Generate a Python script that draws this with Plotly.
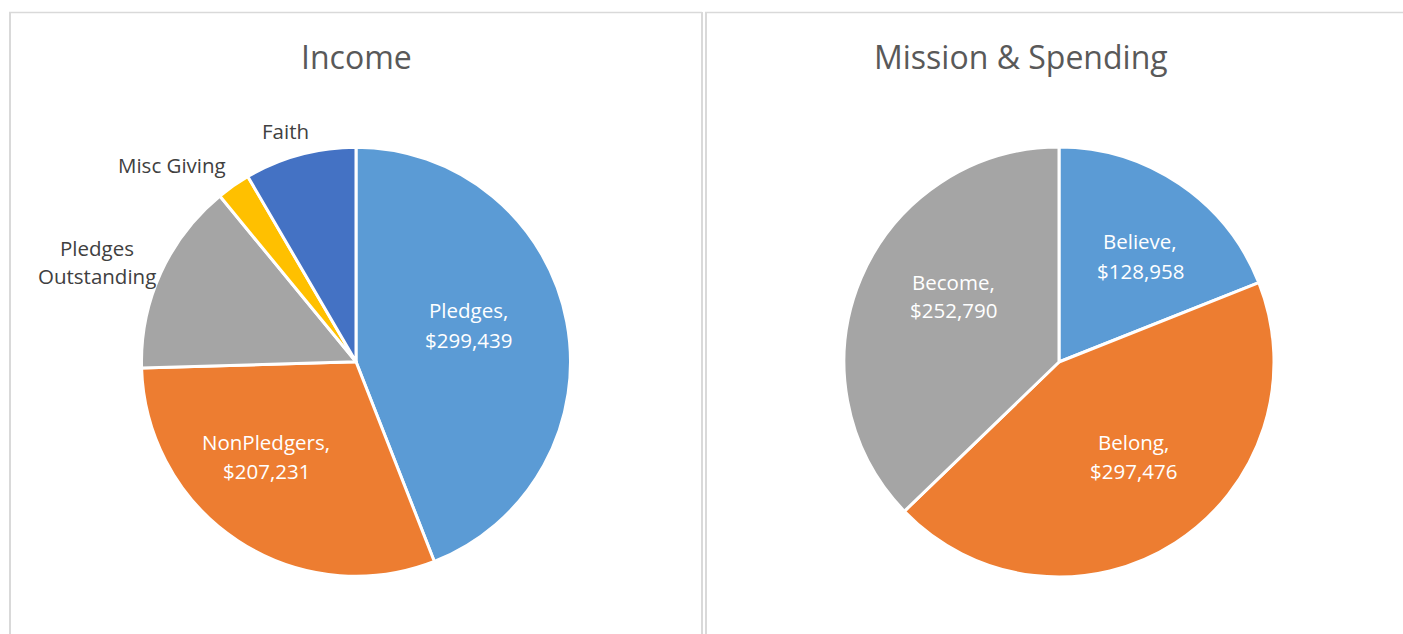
import plotly.graph_objects as go

W, H = 1403, 634

# ---- data ----
income_labels = ["Pledges", "NonPledgers", "Pledges Outstanding", "Misc Giving", "Faith"]
income_values = [299439, 207231, 98700, 17200, 57200]
income_colors = ["#5B9BD5", "#ED7D31", "#A5A5A5", "#FFC000", "#4472C4"]
income_show_value = [True, True, False, False, False]
income_display = ["Pledges", "NonPledgers", "Pledges<br>Outstanding", "Misc Giving", "Faith"]

spend_labels = ["Believe", "Belong", "Become"]
spend_values = [128958, 297476, 252790]
spend_colors = ["#5B9BD5", "#ED7D31", "#A5A5A5"]

titles = ["Income", "Mission & Spending"]

FONT = "Open Sans"


def px(x):
    return x / W


def py(y):
    return (H - y) / H


fig = go.Figure()

fig.add_trace(go.Pie(
    labels=income_labels, values=income_values, sort=False,
    direction="clockwise", rotation=0,
    marker=dict(colors=income_colors, line=dict(color="white", width=3)),
    textinfo="none", hoverinfo="label+value",
    domain=dict(x=[px(356 - 214.5), px(356 + 214.5)], y=[py(576.5), py(147)]),
    showlegend=False,
))
fig.add_trace(go.Pie(
    labels=spend_labels, values=spend_values, sort=False,
    direction="clockwise", rotation=0,
    marker=dict(colors=spend_colors, line=dict(color="white", width=3)),
    textinfo="none", hoverinfo="label+value",
    domain=dict(x=[px(1059 - 215), px(1059 + 215)], y=[py(577), py(147)]),
    showlegend=False,
))

annotations = []


def add_label(lines, cx, cy, color, size=20.5, spacing=29):
    n = len(lines)
    for i, t in enumerate(lines):
        y = cy + (i - (n - 1) / 2) * spacing
        annotations.append(dict(
            x=px(cx), y=py(y), xref="paper", yref="paper", text=t,
            showarrow=False, xanchor="center", yanchor="middle",
            font=dict(family=FONT, size=size, color=color),
        ))


# titles
add_label([titles[0]], 356, 56, "#595959", size=32)
add_label([titles[1]], 1021, 56, "#595959", size=32)

# income labels
inc_pos = [(468, 325), (266, 456), (97, 262), (172, 165), (285, 131)]
for lab, val, show, disp, (cx, cy) in zip(income_labels, income_values, income_show_value, income_display, inc_pos):
    if show:
        add_label([f"{disp},", f"${val:,}"], cx, cy, "white")
    else:
        add_label(disp.split("<br>"), cx, cy, "#404040")

# spending labels
sp_pos = [(1140, 256), (1133, 456), (953, 296)]
for lab, val, (cx, cy) in zip(spend_labels, spend_values, sp_pos):
    add_label([f"{lab},", f"${val:,}"], cx, cy, "white")

# panel borders
bc = "#D9D9D9"
shapes = [
    dict(type="line", xref="paper", yref="paper", x0=px(9), x1=px(702), y0=py(12.5), y1=py(12.5), line=dict(color=bc, width=1.5)),
    dict(type="line", xref="paper", yref="paper", x0=px(10), x1=px(10), y0=py(12), y1=py(634), line=dict(color=bc, width=2)),
    dict(type="line", xref="paper", yref="paper", x0=px(702), x1=px(702), y0=py(12), y1=py(634), line=dict(color=bc, width=2)),
    dict(type="line", xref="paper", yref="paper", x0=px(706), x1=px(706), y0=py(12), y1=py(634), line=dict(color=bc, width=2)),
    dict(type="line", xref="paper", yref="paper", x0=px(705), x1=px(1403), y0=py(12.5), y1=py(12.5), line=dict(color=bc, width=1.5)),
]

fig.update_layout(
    width=W, height=H,
    margin=dict(l=0, r=0, t=0, b=0),
    paper_bgcolor="white", plot_bgcolor="white",
    annotations=annotations, shapes=shapes,
    font=dict(family=FONT),
)

fig.write_html("out.html", config={"displayModeBar": False})
